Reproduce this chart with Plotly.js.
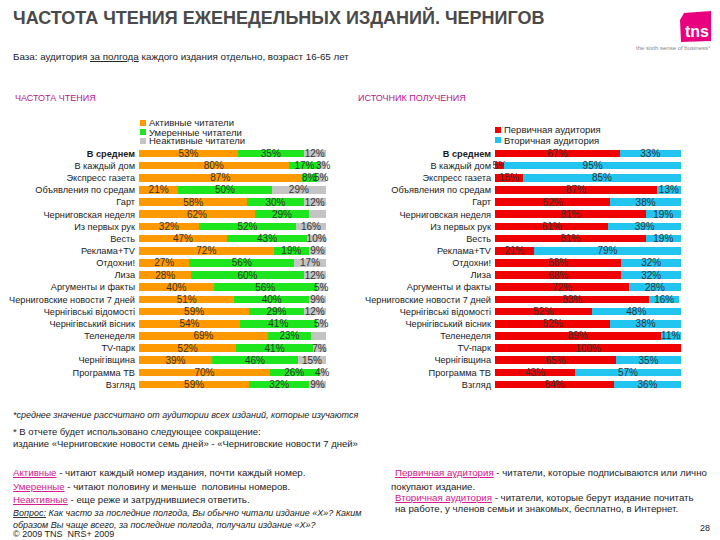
<!DOCTYPE html>
<html>
<head>
<meta charset="utf-8">
<script src="https://cdn.plot.ly/plotly-3.0.1.min.js"></script>
<style>html,body{margin:0;padding:0;background:#fff;}#chart{width:720px;height:540px;}</style>
</head>
<body>
<div id="chart"></div>
<script>
// ---- DATA ----
const categories = ["В среднем","В каждый дом","Экспресс газета","Объявления по средам","Гарт","Черниговская неделя","Из первых рук","Весть","Реклама+TV","Отдохни!","Лиза","Аргументы и факты","Черниговские новости 7 дней","Чернігівські відомості","Чернігівський вісник","Теленеделя","TV-парк","Чернігівщина","Программа ТВ","Взгляд"];
const freqNames = ["Активные читатели","Умеренные читатели","Неактивные читатели"];
const active   = [53,80,87,21,58,62,32,47,72,27,28,40,51,59,54,69,52,39,70,59];
const moderate = [35,17,8,50,30,29,52,43,19,56,60,55,40,29,41,23,41,46,26,32];
const inactive = [12,3,5,29,12,10,16,10,9,17,12,5,9,12,5,9,7,15,4,9];
const moderateLabels = [35,17,8,50,30,29,52,43,19,56,60,56,40,29,41,23,41,46,26,32];
const sourceNames = ["Первичная аудитория","Вторичная аудитория"];
const primary   = [67,5,15,87,62,81,61,81,21,68,68,72,83,52,62,89,100,65,43,64];
const secondary = [33,95,85,13,38,19,39,19,79,32,32,28,16,48,38,11,0,35,57,36];

// ---- helpers ----
const W = 720, H = 540;
const px = x => x / W;
const py = y => 1 - y / H;
const FONT = "Liberation Sans, Arial, sans-serif";
const pct = arr => arr.map(v => v > 0 ? v + "%" : "");
const tickText = categories.map((c, i) => i === 0 ? "<b>" + c + "</b>" : c);

const colFreq = ["#FF9900", "#1EE61E", "#C4C4C4"];
const colSrc = ["#F00000", "#22C4F0"];

function barTrace(vals, labels, name, color, xa, ya) {
  return {
    type: "bar", orientation: "h", y: categories, x: vals, name: name,
    xaxis: xa, yaxis: ya, marker: {color: color, line: {width: 0}},
    text: pct(labels), textposition: "inside", insidetextanchor: "middle", textangle: 0,
    textfont: {family: FONT, size: 10, color: "#333"}, constraintext: "none",
    cliponaxis: false, hoverinfo: "skip", showlegend: false
  };
}

const data = [
  barTrace(active, active, freqNames[0], colFreq[0], "x", "y"),
  barTrace(moderate, moderateLabels, freqNames[1], colFreq[1], "x", "y"),
  barTrace(inactive, inactive, freqNames[2], colFreq[2], "x", "y"),
  barTrace(primary, primary, sourceNames[0], colSrc[0], "x2", "y2"),
  barTrace(secondary, secondary, sourceNames[1], colSrc[1], "x2", "y2")
];

const yDom = [py(390.6), py(147.4)];
const yAxisCommon = {
  type: "category", categoryorder: "array", categoryarray: categories,
  autorange: "reversed", domain: yDom, showgrid: false, zeroline: false,
  showline: false, ticks: "", tickvals: categories, ticktext: tickText,
  tickfont: {family: FONT, size: 9.2, color: "#1a1a1a"}, ticklabelstandoff: 3
};
const xAxisCommon = {range: [0, 100], showgrid: false, zeroline: false, showline: false,
  showticklabels: false, ticks: ""};

const shapes = [];
const annotations = [];
function ann(text, x, y, opts) {
  annotations.push(Object.assign({
    text: text, x: px(x), y: py(y), xref: "paper", yref: "paper",
    xanchor: "left", yanchor: "middle", showarrow: false,
    font: {family: FONT, size: 9.7, color: "#222"}
  }, opts || {}));
}
function legendItem(name, color, x, y) {
  shapes.push({type: "rect", xref: "paper", yref: "paper",
    x0: px(x), x1: px(x + 6), y0: py(y + 3), y1: py(y - 3),
    fillcolor: color, line: {width: 0}});
  ann(name, x + 7, y, {font: {family: FONT, size: 9.5, color: "#222"}});
}
freqNames.forEach((n, i) => legendItem(n, colFreq[i], 140, 123 + i * 9));
sourceNames.forEach((n, i) => legendItem(n, colSrc[i], 495, 130 + i * 10));

// title etc
ann("ЧАСТОТА ЧТЕНИЯ ЕЖЕНЕДЕЛЬНЫХ ИЗДАНИЙ. ЧЕРНИГОВ", 11, 18,
  {font: {family: FONT, size: 18, color: "#4a4a4a", weight: 700}});
ann("База: аудитория <u>за полгода</u> каждого издания отдельно, возраст 16-65 лет", 11, 56,
  {font: {family: FONT, size: 9.8, color: "#222"}});
ann("ЧАСТОТА ЧТЕНИЯ", 13, 98, {font: {family: FONT, size: 9, color: "#B5178C"}});
ann("ИСТОЧНИК ПОЛУЧЕНИЯ", 356, 98, {font: {family: FONT, size: 9, color: "#B5178C"}});

// logo
shapes.push({type: "path", xref: "paper", yref: "paper",
  path: "M " + px(684) + "," + py(13) + " L " + px(711) + "," + py(11) + " L " + px(711) + "," + py(41) +
        " L " + px(681) + "," + py(42) + " L " + px(680) + "," + py(20) + " Z",
  fillcolor: "#E8007F", line: {width: 0}});
ann("<b>tns</b>", 711, 32, {xanchor: "right", font: {family: FONT, size: 16, color: "#fff"}});
ann("the sixth sense of business°", 713, 48, {xanchor: "right", font: {family: FONT, size: 6, color: "#888"}});

// footnotes
const small = {family: FONT, size: 9.5, color: "#222"};
ann("<i>*среднее значение рассчитано от аудитории всех изданий, которые изучаются</i>", 11, 415, {font: {family: FONT, size: 9, color: "#222"}});
ann("* В отчете будет использовано следующее сокращение:", 11, 431, {font: small});
ann("издание «Черниговские новости семь дней» - «Черниговские новости 7 дней»", 11, 443, {font: small});
const pink = "#D4158A";
ann("<span style='color:" + pink + "'><u>Активные</u></span> - читают каждый номер издания, почти каждый номер.", 11, 472);
ann("<span style='color:" + pink + "'><u>Умеренные</u></span> - читают половину и меньше  половины номеров.", 11, 486);
ann("<span style='color:" + pink + "'><u>Неактивные</u></span> - еще реже и затруднившиеся ответить.", 11, 499);
ann("<i><u>Вопрос:</u> Как часто за последние полгода, Вы обычно читали издание «Х»? Каким</i>", 11, 513, {font: {family: FONT, size: 9, color: "#222"}});
ann("<i>образом Вы чаще всего, за последние полгода, получали издание «Х»?</i>", 11, 525, {font: {family: FONT, size: 9, color: "#222"}});
ann("© 2009 TNS  NRS+ 2009", 11, 534, {font: {family: FONT, size: 9, color: "#222"}});
ann("<span style='color:" + pink + "'><u>Первичная аудитория</u></span> - читатели, которые подписываются или лично", 393, 472);
ann("покупают издание.", 389, 486);
ann("<span style='color:" + pink + "'><u>Вторичная аудитория</u></span> - читатели, которые берут издание почитать", 393, 497);
ann("на работе, у членов семьи и знакомых, бесплатно, в Интернет.", 393, 509);
ann("28", 712, 528, {xanchor: "right", font: {family: FONT, size: 9, color: "#222"}});

const layout = {
  width: W, height: H, margin: {l: 0, r: 0, t: 0, b: 0},
  paper_bgcolor: "#fff", plot_bgcolor: "#fff",
  barmode: "stack", bargap: 0.37, showlegend: false,
  uniformtext: {mode: "show", minsize: 10},
  xaxis: Object.assign({domain: [px(139), px(326)]}, xAxisCommon),
  xaxis2: Object.assign({domain: [px(495), px(681)], anchor: "y2"}, xAxisCommon),
  yaxis: Object.assign({anchor: "x"}, yAxisCommon),
  yaxis2: Object.assign({anchor: "x2"}, yAxisCommon),
  shapes: shapes, annotations: annotations,
  font: {family: FONT}
};

Plotly.newPlot("chart", data, layout, {displayModeBar: false, staticPlot: true});
</script>
</body>
</html>
